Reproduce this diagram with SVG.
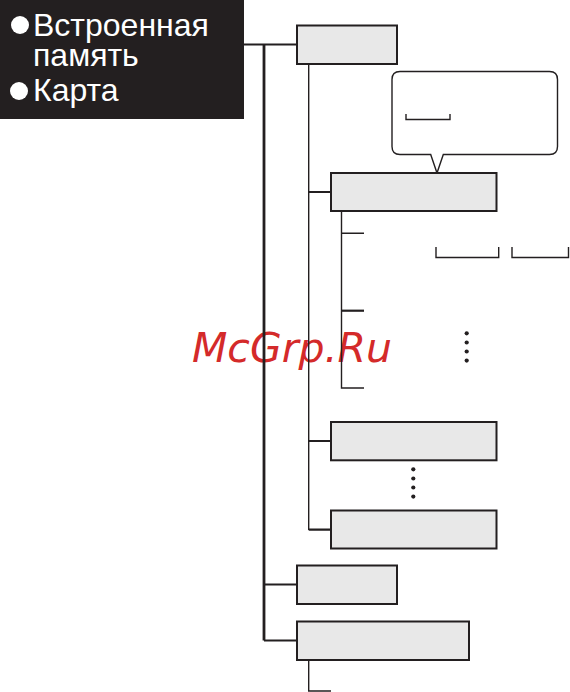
<svg xmlns="http://www.w3.org/2000/svg" width="570" height="692" viewBox="0 0 570 692">
<style>
.box{fill:#e8e8e8;stroke:#231f20;stroke-width:2}
.thick{stroke:#231f20;stroke-width:2.8;fill:none}
.mid{stroke:#231f20;stroke-width:2.2;fill:none}
.thin{stroke:#231f20;stroke-width:1.4;fill:none}
.lbl{font-family:"Liberation Sans",Arial,sans-serif;font-size:32px;fill:#ffffff}
.dot{fill:#231f20}
</style>
<text x="192" y="362" font-family="DejaVu Sans, sans-serif" font-style="italic" font-size="41" fill="#d42a2a">McGrp.Ru</text>
<g id="legend">
<rect x="0" y="0" width="244" height="119" fill="#231f20"/>
<circle cx="20" cy="25" r="9" fill="#ffffff"/>
<text class="lbl" x="33" y="36">Встроенная</text>
<text class="lbl" x="33" y="66">память</text>
<circle cx="19" cy="91" r="9" fill="#ffffff"/>
<text class="lbl" x="33" y="101">Карта</text>
</g>
<g id="connectors">
<path class="mid" d="M244 44.5H297"/>
<path class="thick" d="M264 44.5V640.5"/>
<path class="mid" d="M264 584.5H297M264 640.5H297"/>
<path class="thin" d="M308.7 64V530"/>
<path class="mid" d="M308.7 192H331M308.7 441H331M308.7 529.7H331"/>
<path class="thin" d="M341.5 211V388H364M341.5 233.3H364"/>
<path class="mid" d="M341.5 310.7H364"/>
<path class="thin" d="M308.7 660V691H331"/>
</g>
<g id="node1"><rect class="box" x="297" y="25.5" width="100" height="38.5"/></g>
<g id="callout">
<path d="M400 71.5H549.5Q557.5 71.5 557.5 79.5V146.5Q557.5 154.5 549.5 154.5H443.3L437 173L430.7 154.5H400Q392 154.5 392 146.5V79.5Q392 71.5 400 71.5Z" fill="#ffffff" stroke="#231f20" stroke-width="1.4"/>
<path class="thin" d="M406 114V119.5H450V114" stroke-width="2"/>
</g>
<g id="node2"><rect class="box" x="331" y="173" width="165.5" height="38"/></g>
<g id="brackets">
<path class="thin" d="M436 247V257.5H498.7V247" stroke-width="2"/>
<path class="thin" d="M512 247V257.5H568.5V247" stroke-width="2"/>
</g>
<g id="dots1">
<circle class="dot" cx="466.7" cy="333.3" r="2.1"/>
<circle class="dot" cx="466.7" cy="342.5" r="2.1"/>
<circle class="dot" cx="466.7" cy="351.5" r="2.1"/>
<circle class="dot" cx="466.7" cy="360.6" r="2.1"/>
</g>
<g id="node3"><rect class="box" x="331" y="422" width="165.5" height="38.3"/></g>
<g id="dots2">
<circle class="dot" cx="413.3" cy="469.3" r="2.1"/>
<circle class="dot" cx="413.3" cy="478.5" r="2.1"/>
<circle class="dot" cx="413.3" cy="487.5" r="2.1"/>
<circle class="dot" cx="413.3" cy="496.6" r="2.1"/>
</g>
<g id="node4"><rect class="box" x="331" y="510.5" width="165.5" height="38"/></g>
<g id="node5"><rect class="box" x="297" y="565.5" width="100" height="38.5"/></g>
<g id="node6"><rect class="box" x="297" y="621.5" width="172" height="38.5"/></g>
</svg>
